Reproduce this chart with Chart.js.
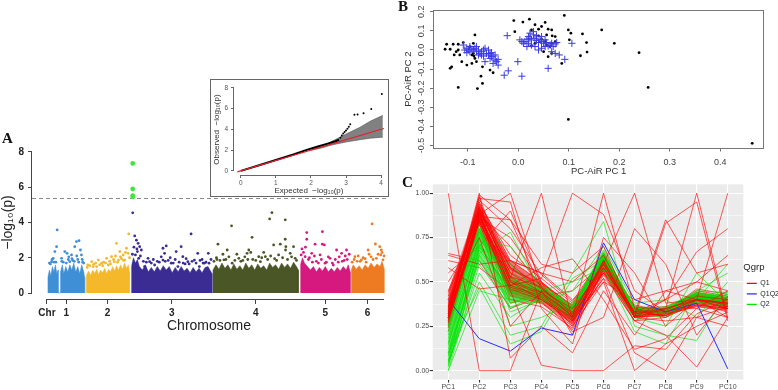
<!DOCTYPE html>
<html>
<head>
<meta charset="utf-8">
<script src="https://cdn.jsdelivr.net/npm/chart.js@4.4.1/dist/chart.umd.min.js"></script>
<style>
  html, body { margin: 0; padding: 0; background: #fff; }
  #page { position: relative; width: 778px; height: 390px; overflow: hidden; }
  canvas { position: absolute; }
  #qqBox { position: absolute; left: 210px; top: 79px; width: 177px; height: 116px; border: 1px solid #666; background: #fff; }
  #pcaFrame { position: absolute; box-sizing: border-box; border: 1px solid #777; background: transparent; }
  .tag { position: absolute; font: bold 15px "Liberation Serif", "DejaVu Serif", serif; line-height: 15px; color: #111; }
</style>
</head>
<body>
<div id="page">
  <canvas id="manhattan" width="390" height="200" style="left:0;top:140px"></canvas>
  <div id="qqBox"><canvas id="qq" width="177" height="116" style="left:0;top:0"></canvas></div>
  <canvas id="parcoord" width="383" height="208" style="left:395px;top:182px"></canvas>
  <canvas id="pca" width="383" height="182" style="left:395px;top:0"></canvas>
  <div id="pcaFrame"></div>
  <div class="tag" style="left:2px;top:131px">A</div>
  <div class="tag" style="left:398px;top:-1px">B</div>
  <div class="tag" style="left:402px;top:175px">C</div>
</div>
<script>
// ---- panel A: manhattan plot (position along genome, -log10 p) ----
const chrTickPos = [-1, 18.5, 60, 124.5, 209, 279, 321.5];
const chrTickText = ['Chr', '1', '2', '3', '4', '5', '6'];
const chrAxisSpan = [-1, 338];
const manhattanRange = [-16, 340];
const yTicksA = [0, 2, 4, 6, 8];
const sigLine = 5.36;

// dense part of each chromosome, outline of the point cloud
const chr1Bulk = [[0,0],[0,0.9],[1.5,1.3],[3,1.0],[4.5,1.5],[6,1.2],[7.5,1.6],[9,1.1],[10.3,1.3],[10.3,0],[12.7,0],[12.7,1.2],[14.5,1.6],[16,1.1],[18,1.5],[20,1.2],[22,1.6],[24,1.3],[26,1.7],[28,1.2],[30,1.5],[32,1.1],[34,1.6],[36,1.2],[37,0.9],[37,0]];
const chr2Bulk = [[38.5,0],[38.5,1.0],[41,1.25],[43,1.0],[45,1.3],[47,1.1],[49,1.35],[51,1.05],[53,1.3],[55,1.15],[57,1.4],[59,1.1],[61,1.35],[63,1.2],[65,1.5],[67,1.25],[69,1.55],[71,1.3],[73,1.6],[75,1.35],[77,1.7],[79,1.4],[81,1.6],[82,1.2],[82,0]];
const chr3Bulk = [[84,0],[84,1.5],[86,2.0],[88,1.7],[90,1.9],[92,1.5],[95,1.3],[98,1.6],[101,1.2],[104,1.45],[107,1.2],[110,1.5],[113,1.25],[116,1.55],[119,1.3],[122,1.5],[125,1.15],[128,1.45],[131,1.2],[134,1.5],[137,1.25],[140,1.4],[143,1.15],[146,1.45],[149,1.2],[152,1.4],[155,1.15],[158,1.45],[161,1.5],[163,1.3],[165,1.1],[165,0]];
const chr4Bulk = [[166,0],[166,1.3],[169,1.6],[172,1.35],[175,1.7],[178,1.4],[181,1.6],[184,1.3],[187,1.65],[190,1.35],[193,1.55],[196,1.3],[199,1.7],[202,1.4],[205,1.6],[208,1.3],[211,1.65],[214,1.4],[217,1.55],[220,1.3],[223,1.7],[226,1.45],[229,1.6],[232,1.35],[235,1.7],[238,1.45],[241,1.65],[244,1.4],[247,1.75],[250,1.5],[252,1.3],[252,0]];
const chr5Bulk = [[254,0],[254,1.6],[256,2.0],[258,1.7],[261,1.5],[264,1.3],[267,1.5],[270,1.2],[273,1.45],[276,1.25],[279,1.5],[282,1.2],[285,1.4],[288,1.2],[291,1.45],[294,1.25],[297,1.5],[300,1.3],[302,1.6],[304,1.2],[304,0]];
const chr6Bulk = [[305,0],[305,1.3],[307,1.6],[310,1.35],[313,1.55],[316,1.3],[319,1.6],[322,1.4],[325,1.7],[328,1.45],[331,1.65],[334,1.5],[336,1.8],[338,1.4],[338,0]];

// scattered markers above the dense part
const chr1Pts = [[9.3,3.58],[8.7,2.63],[7,2.35],[5.3,1.97],[3.7,1.78],[17,2.35],[19.3,2.25],[23.7,2.16],[28.7,2.92],[31.3,2.97],[32.7,2.44],[27,2.63],[13.7,1.97],[22,1.78],[33.7,2.16],[1.5,1.7],[25,1.85],[30,1.9],[35,1.75],[15.5,1.75],[20.5,1.9],[6,1.75],
  [2.5,1.65],[4.2,1.9],[8,1.75],[14,1.8],[18.5,1.7],[21,2.05],[24.2,1.95],[26.5,1.8],[29,2.1],[31,1.75],[34.5,1.9],[36,1.7]];
const chr2Pts = [[69,2.82],[81.3,3.35],[72.3,2.35],[75.7,2.16],[79,2.54],[64,2.06],[59,1.97],[50.7,1.87],[44,1.78],[80.7,2.25],[71,1.87],[66.7,1.78],[54,1.69],[60.7,1.59],[49,1.5],[77.3,1.87],[40,1.6],[46,1.62],[56,1.75],[62,1.8],[74,1.95],
  [39.5,1.45],[42,1.55],[45.5,1.5],[48,1.7],[52,1.6],[55,1.55],[58,1.7],[63,1.65],[66,1.9],[68,2.1],[70,1.75],[73,2.05],[76,1.85],[78,2.3],[82,2.0]];
const chr3Pts = [[87.3,3.24],[89,3.0],[90.7,2.82],[92.3,2.63],[94,2.44],[90,2.35],[88,2.16],[91.3,1.97],[100.7,1.97],[102.3,1.78],[115.7,2.54],[119,2.67],[117.3,2.25],[115.7,1.87],[129,2.35],[134,2.63],[135.7,2.06],[144,3.35],[147.3,1.87],[150.7,2.25],[157.3,1.69],[152.3,1.5],[140.7,1.78],[124,1.69],[107.3,1.59],[130.7,1.5],[97.3,1.5],[161.3,2.25],[162,1.69],[110,1.8],[121,1.85],[138,1.65],[155,1.9],[85.3,4.55],
  [85,2.2],[86.5,2.6],[89.5,2.5],[93,2.1],[96,1.8],[99,1.75],[104,1.7],[106,1.9],[112,1.75],[114,2.05],[118,1.8],[123,2.0],[126,1.7],[128,1.9],[132,1.75],[136,1.7],[139,1.95],[142,1.65],[145,1.8],[149,1.7],[153,1.85],[156,1.7],[159,1.75],[164,1.9]];
const chr4Pts = [[184.7,3.81],[205.3,3.16],[225.3,4.56],[223,4.2],[238.7,4.15],[171,2.77],[180.3,2.44],[200.3,2.25],[202,2.44],[227,2.73],[233.7,2.77],[238.7,3.05],[239.3,2.63],[239,2.44],[247,2.63],[243.7,2.25],[232,2.16],[218.7,2.06],[212,2.06],[192,1.97],[177,1.88],[213.7,1.78],[185.3,1.69],[248.7,1.97],[196,1.85],[206,1.9],[228,1.95],[170,1.9],
  [167,1.8],[169.5,2.0],[173,1.85],[176,2.2],[179,1.9],[182,2.05],[188,1.85],[190,2.2],[194,1.8],[198,2.05],[201,1.9],[204,2.3],[209,1.85],[215,2.0],[217,2.3],[221,1.9],[224,2.1],[230,1.85],[236,2.0],[241,1.9],[245,2.05],[250,1.85]];
const chr5Pts = [[260.3,3.43],[276,3.48],[260.3,3.05],[268.7,2.77],[276,2.77],[278,2.73],[254.7,2.16],[258.7,2.06],[265.3,2.25],[273.7,2.16],[283.7,1.97],[290.3,2.44],[295.3,2.25],[300.3,2.44],[278.7,1.69],[287,1.59],[262,1.9],[270,1.8],[292,1.75],[298,1.85],
  [255.5,2.5],[257,2.3],[259,2.6],[263,2.0],[266,1.75],[268,2.1],[272,1.7],[275,1.9],[280,1.75],[282,2.05],[286,1.7],[289,1.9],[293,2.05],[296,1.8],[299,2.1],[301,1.9],[303,2.2]];
const chr6Pts = [[326,3.92],[322,2.44],[329.3,2.78],[333.7,2.63],[335.3,2.44],[334.7,2.16],[308.7,2.06],[315.3,1.88],[330.3,1.97],[337,1.88],[311,1.8],[319,1.95],[325,2.05],
  [306,1.75],[308,1.9],[312,2.1],[314,1.8],[317,2.0],[320,1.75],[323,2.2],[327,1.9],[332,2.2],[336,2.3],[338,2.1]];
const sigPts = [[85.3,7.35],[85.3,5.9],[85.3,5.52],[85.3,5.45]];

// ---- inset: QQ plot ----
const qqXTicks = [0, 1, 2, 3, 4];
const qqYTicks = [0, 2, 4, 6, 8];
const qqRefLine = [[-0.1,-0.1],[4.08,4.08]];
const qqObsLine = [[0,0],[0.5,0.52],[1,1.04],[1.5,1.57],[1.9,2.05],[2.2,2.35],[2.5,2.65],[2.7,2.85],[2.8,3.0]];
const qqTail = [[2.84,3.2],[2.88,3.4],[2.92,3.6],[2.96,3.75],[3.0,3.9],[3.04,4.05],[3.08,4.25],[3.12,4.5],[3.24,5.4],[3.33,5.42],[3.5,5.55],[3.72,5.95],[4.02,7.4]];
const qqBandX = [2, 2.3, 2.6, 3, 3.4, 3.7, 4.05];
const qqBandUpper = [2.02, 2.35, 2.85, 3.55, 4.2, 4.8, 5.35];
const qqBandLower = [1.98, 2.2, 2.5, 2.78, 3.0, 3.15, 3.25];

// ---- panel B: PC-AiR scatter ----
const pcXTicks = [-0.1, 0, 0.1, 0.2, 0.3, 0.4];
const pcYTicks = [-0.5, -0.4, -0.3, -0.2, -0.1, 0, 0.1, 0.2];
const pcBlack = [[-0.145,0.004],[-0.142,0.030],[-0.135,0.004],[-0.129,0.030],[-0.127,-0.026],[-0.123,-0.009],[-0.119,0.030],[-0.119,0.0],[-0.116,-0.026],[-0.132,-0.088],[-0.135,-0.096],[-0.112,-0.061],[-0.109,0.039],[-0.102,-0.079],[-0.092,-0.070],[-0.086,0.079],[-0.089,0.035],[-0.096,0.018],[-0.089,-0.018],[-0.086,-0.044],[-0.083,-0.061],[-0.119,-0.196],[-0.081,-0.202],[-0.071,-0.175],[-0.074,-0.137],[-0.071,-0.088],[-0.056,-0.105],[-0.050,-0.119],[-0.092,-0.026],[-0.088,-0.032],
  [-0.009,0.154],[-0.007,0.096],[0.009,0.146],[0.022,0.161],[0.033,0.132],[0.046,0.123],[0.053,0.144],[0.059,0.109],[0.066,0.105],[0.067,0.074],[0.073,0.070],[0.056,0.079],[0.040,0.074],[0.046,0.056],[0.053,0.044],[0.056,0.026],[0.063,0.018],[0.066,0.035],[0.073,0.044],[0.066,-0.018],[0.059,-0.035],[0.050,-0.009],[0.033,0.035],[0.026,0.021],[0.086,-0.070],[0.091,0.181],[0.099,0.105],[0.104,0.088],[0.101,0.053],[0.099,-0.363],[0.040,0.109],[0.026,0.105],
  [0.127,0.084],[0.135,0.039],[0.136,-0.011],[0.123,-0.030],[0.165,0.105],[0.190,0.035],[0.239,-0.014],[0.257,-0.196],[0.463,-0.488]];
const pcBlue = [[0.003,0.053],[0.007,0.044],[0.010,0.035],[0.013,0.044],[0.017,0.056],[0.020,0.070],[0.023,0.061],[0.026,0.053],[0.030,0.079],[0.033,0.061],[0.036,0.049],[0.040,0.039],[0.043,0.056],[0.046,0.044],[0.050,0.035],[0.053,0.053],[0.056,0.039],[0.059,0.021],[0.063,0.026],[0.066,0.035],[0.069,0.018],[0.073,0.032],[0.076,0.039],[0.020,0.035],[0.026,0.026],[0.033,0.018],[0.040,0.000],[0.046,0.009],[0.053,0.018],[0.023,0.088],[0.030,0.096],[0.017,0.018],[0.036,0.074],[0.046,0.070],[0.066,-0.009],[0.073,-0.018],
  [-0.109,0.026],[-0.106,0.000],[-0.102,0.009],[-0.099,0.000],[-0.096,-0.009],[-0.092,0.004],[-0.089,0.000],[-0.086,0.009],[-0.083,-0.009],[-0.079,0.000],[-0.076,-0.018],[-0.073,-0.009],[-0.069,0.000],[-0.066,0.009],[-0.063,-0.018],[-0.059,-0.026],[-0.056,-0.018],[-0.053,-0.035],[-0.050,-0.032],[-0.046,-0.053],[-0.043,-0.061],[-0.040,-0.049],[-0.050,-0.070],[-0.056,-0.044],[-0.066,-0.061],[-0.073,-0.026],[-0.079,-0.026],[-0.069,-0.032],[-0.083,0.018],[-0.096,0.018],[-0.102,-0.014],[-0.059,0.000],[-0.053,-0.014],[-0.046,-0.026],[-0.040,-0.079],
  [-0.022,0.075],[-0.020,-0.109],[-0.028,-0.132],[0.007,-0.137],[-0.001,-0.061],[0.059,-0.096],[0.081,-0.026],[0.092,-0.049],[0.106,0.035]];

// ---- panel C: parallel coordinates ----
const pcAxes = ['PC1','PC2','PC3','PC4','PC5','PC6','PC7','PC8','PC9','PC10'];
const parYTicks = [0, 0.25, 0.5, 0.75, 1];
const parMinorTicks = [0.125, 0.375, 0.625, 0.875];
const groups = ['Q1', 'Q1Q2', 'Q2'];
const q1BandLow  = [0.24,0.82,0.42,0.38,0.26,0.55,0.30,0.31,0.36,0.34];
const q1BandHigh = [0.45,0.95,0.62,0.50,0.37,0.64,0.36,0.35,0.44,0.41];
const q2BandLow  = [0.02,0.62,0.38,0.41,0.31,0.60,0.32,0.33,0.38,0.37];
const q2BandHigh = [0.28,0.80,0.52,0.47,0.36,0.67,0.35,0.35,0.44,0.42];
const q1Lines = [
  [0.30,0.88,0.52,0.45,0.30,0.60,0.32,0.33,0.40,0.38],[0.35,0.92,0.58,0.48,0.33,0.62,0.33,0.34,0.42,0.37],
  [0.25,0.85,0.48,0.42,0.28,0.57,0.31,0.32,0.38,0.36],[0.40,0.90,0.55,0.47,0.35,0.63,0.34,0.33,0.41,0.39],
  [0.28,0.82,0.45,0.40,0.27,0.55,0.30,0.31,0.37,0.35],[0.32,0.95,0.62,0.50,0.36,0.64,0.35,0.35,0.43,0.40],
  [0.45,0.87,0.50,0.44,0.31,0.59,0.33,0.32,0.39,0.37],[0.27,0.89,0.42,0.38,0.25,0.56,0.31,0.34,0.41,0.36],
  [0.38,0.93,0.60,0.46,0.34,0.61,0.32,0.31,0.40,0.38],[0.30,0.84,0.47,0.43,0.29,0.58,0.34,0.33,0.44,0.41],
  [0.22,0.86,0.53,0.41,0.26,0.60,0.30,0.32,0.36,0.34],[0.42,0.91,0.57,0.49,0.37,0.66,0.36,0.34,0.42,0.39],
  [0.33,0.80,0.44,0.39,0.23,0.54,0.28,0.30,0.38,0.33],[0.36,0.94,0.65,0.52,0.38,0.63,0.33,0.33,0.45,0.42],
  [0.29,0.88,0.70,0.47,0.32,0.61,0.32,0.35,0.40,0.37],[0.31,0.86,0.75,0.50,0.34,0.60,0.31,0.34,0.41,0.38],
  [0.26,0.90,0.40,0.36,0.24,0.57,0.33,0.31,0.39,0.40],[0.44,0.83,0.38,0.44,0.28,0.52,0.35,0.36,0.43,0.36],
  [0.37,0.96,0.80,0.54,0.39,0.65,0.34,0.32,0.37,0.35],[0.24,0.87,0.85,0.46,0.30,0.62,0.30,0.33,0.42,0.39],
  [0.50,0.78,0.62,0.55,0.40,0.55,0.37,0.33,0.46,0.43],[0.55,0.70,0.90,0.50,0.20,0.58,0.28,0.36,0.35,0.30],
  [0.62,0.58,0.45,0.45,0.25,0.50,0.40,0.45,0.50,0.45],[0.66,0.62,0.35,0.42,0.45,0.60,0.30,0.28,0.30,0.25]
];
const q1Outliers = [
  [1.00,0.00,0.00,0.45,0.35,0.58,0.33,0.33,0.40,0.38],[0.30,0.88,1.00,0.47,0.32,0.60,0.32,0.34,0.42,0.40],
  [0.35,0.92,0.52,1.00,0.28,0.62,0.33,0.35,0.40,0.37],[0.30,0.87,0.48,0.52,1.00,0.88,0.45,0.33,0.40,0.38],
  [0.28,0.85,0.45,0.03,0.00,0.00,0.14,0.12,0.32,0.40],[0.32,0.98,0.50,0.40,0.30,1.00,0.35,0.30,0.40,0.38],
  [0.30,0.85,0.48,0.42,0.30,0.60,1.00,0.38,0.40,0.35],[0.34,0.90,0.55,0.44,0.32,0.62,0.30,0.83,0.95,0.28],
  [0.29,0.88,0.50,0.43,0.31,0.58,0.32,0.35,1.00,0.30],[0.31,0.89,0.47,0.41,0.29,0.61,0.30,0.35,0.40,1.00],
  [0.33,0.92,0.58,0.46,0.33,0.60,0.33,0.40,0.67,0.80],[0.30,0.86,0.51,0.44,0.31,0.55,0.28,0.20,0.02,0.30],
  [0.27,0.84,0.46,0.40,0.28,0.52,0.10,0.00,0.30,0.36],[0.36,0.91,0.53,0.47,0.30,0.50,0.00,0.15,0.25,0.33],
  [0.34,1.00,0.07,0.25,0.10,0.45,0.20,0.45,0.40,0.35],[0.65,0.60,0.62,0.55,0.50,0.65,0.32,0.85,0.55,0.60],
  [0.58,0.46,0.48,0.58,0.63,0.40,0.12,0.18,0.35,0.45],[0.30,0.97,0.95,0.35,0.15,0.75,0.55,0.25,0.40,0.30],
  [0.32,0.99,0.85,0.60,0.55,0.70,0.30,0.40,0.50,0.65],[0.40,0.75,0.25,0.45,0.22,0.30,0.80,0.60,0.20,0.42]
];
const q2Lines = [
  [0.05,0.70,0.45,0.44,0.33,0.63,0.34,0.34,0.41,0.39],[0.10,0.75,0.48,0.45,0.34,0.64,0.35,0.33,0.42,0.40],
  [0.15,0.72,0.42,0.43,0.32,0.62,0.33,0.35,0.40,0.38],[0.02,0.65,0.40,0.42,0.31,0.60,0.32,0.34,0.39,0.37],
  [0.20,0.78,0.50,0.46,0.35,0.66,0.34,0.35,0.43,0.41],[0.08,0.68,0.46,0.44,0.33,0.65,0.33,0.33,0.41,0.40],
  [0.25,0.80,0.55,0.47,0.36,0.67,0.35,0.34,0.44,0.42],[0.12,0.62,0.38,0.41,0.30,0.61,0.33,0.34,0.40,0.38],
  [0.00,0.60,0.36,0.40,0.31,0.59,0.32,0.33,0.38,0.37],[0.18,0.74,0.52,0.45,0.34,0.64,0.34,0.35,0.42,0.41],
  [0.06,0.71,0.44,0.43,0.32,0.63,0.35,0.34,0.41,0.39],[0.28,0.77,0.47,0.46,0.35,0.62,0.33,0.35,0.43,0.40],
  [0.03,0.66,0.78,0.44,0.30,0.60,0.34,0.33,0.40,0.43],[0.14,0.73,0.70,0.48,0.37,0.65,0.35,0.36,0.44,0.41],
  [0.09,0.69,0.60,0.42,0.33,0.66,0.33,0.34,0.42,0.40],[0.22,0.79,0.33,0.40,0.34,0.64,0.36,0.35,0.45,0.44],
  [0.04,0.55,0.30,0.41,0.29,0.60,0.33,0.32,0.39,0.37],[0.16,0.76,0.53,0.47,0.36,0.68,0.34,0.34,0.41,0.40],
  [0.10,0.47,0.15,0.22,0.52,0.62,0.32,0.30,0.40,0.60],[0.05,0.50,0.20,0.25,0.55,0.84,0.25,0.20,0.17,0.45],
  [0.30,0.80,0.35,0.45,0.50,0.58,0.22,0.15,0.45,0.55],[0.00,0.45,0.40,0.38,0.45,0.70,0.38,0.40,0.30,0.50],
  [0.26,0.82,0.25,0.30,0.38,0.57,0.30,0.25,0.55,0.38]
];
const q1q2Lines = [[0.40,0.18,0.11,0.24,0.20,0.72,0.40,0.33,0.38,0.01]];

// ---- helpers ----
Chart.defaults.font.family = '"Liberation Sans", Arial, sans-serif';
Chart.defaults.plugins.legend.display = false;
Chart.defaults.plugins.tooltip.enabled = false;

const toXY = arr => arr.map(([x, y]) => ({ x, y }));
const setTicks = vals => s => { s.ticks = vals.map(v => ({ value: v })); };
const fitX = h => s => { s.height = h; s.paddingLeft = 0; s.paddingRight = 0; };
const fitY = w => s => { s.width = w; s.paddingTop = 0; s.paddingBottom = 0; };
// first dataset in the array is painted first (lowest)
const layered = sets => { sets.forEach((d, i) => { d.order = sets.length - i; }); return sets; };
const base = { responsive: false, animation: false, devicePixelRatio: 1, events: [] };

// R style axis lines that only span the tick range
const rAxes = {
  id: 'rAxes',
  afterDraw(chart, args, opts) {
    const { ctx, chartArea: a, scales } = chart;
    ctx.save();
    ctx.strokeStyle = opts.color || '#444';
    ctx.lineWidth = 1;
    ctx.beginPath();
    if (opts.x) {
      const y = Math.round(a.bottom) + 0.5;
      ctx.moveTo(scales.x.getPixelForValue(opts.x[0]), y);
      ctx.lineTo(scales.x.getPixelForValue(opts.x[1]), y);
    }
    if (opts.y) {
      const x = Math.round(a.left) - 0.5;
      ctx.moveTo(x, scales.y.getPixelForValue(opts.y[0]));
      ctx.lineTo(x, scales.y.getPixelForValue(opts.y[1]));
    }
    ctx.stroke();
    ctx.restore();
  }
};
const panelBg = {
  id: 'panelBg',
  beforeDraw(chart, args, opts) {
    const { ctx, chartArea: a } = chart;
    ctx.save();
    ctx.fillStyle = opts.color || '#ebebeb';
    ctx.fillRect(a.left, a.top, a.width, a.height);
    ctx.restore();
  }
};

// ---- A: manhattan ----
const chrColors = ['#3f8fd7', '#f5b82a', '#3b2c94', '#4b5626', '#d5197f', '#ee7b22'];
const bulks = [chr1Bulk, chr2Bulk, chr3Bulk, chr4Bulk, chr5Bulk, chr6Bulk];
const chrPts = [chr1Pts, chr2Pts, chr3Pts, chr4Pts, chr5Pts, chr6Pts];
const aSets = [];
bulks.forEach((b, i) => aSets.push({
  type: 'line', data: toXY(b), fill: 'origin', backgroundColor: chrColors[i],
  borderColor: chrColors[i], borderWidth: 0.5, pointRadius: 0, tension: 0
}));
chrPts.forEach((p, i) => aSets.push({ data: toXY(p), backgroundColor: chrColors[i], borderWidth: 0, pointRadius: 1.4 }));
aSets.push({
  type: 'line', data: manhattanRange.map(x => ({ x, y: sigLine })),
  borderColor: '#8a8a8a', borderWidth: 1, borderDash: [4, 3], pointRadius: 0, fill: false
});
aSets.push({ data: toXY(sigPts), backgroundColor: '#3ee63e', borderWidth: 0, pointRadius: 2.4 });

new Chart(document.getElementById('manhattan'), {
  type: 'scatter',
  data: { datasets: layered(aSets) },
  options: {
    ...base,
    layout: { padding: { top: 6, right: 2, left: 0, bottom: 0 } },
    scales: {
      x: {
        type: 'linear', min: manhattanRange[0], max: manhattanRange[1],
        afterBuildTicks: setTicks(chrTickPos), afterFit: fitX(41),
        ticks: { callback: (v, i) => chrTickText[i], autoSkip: false, maxRotation: 0, padding: 3, color: '#222', font: { size: 10, weight: 'bold' } },
        grid: { drawOnChartArea: false, tickLength: 5, color: '#444' },
        border: { display: false },
        title: { display: true, text: 'Chromosome', color: '#222', font: { size: 14 }, padding: { top: 0, bottom: 5.6 } }
      },
      y: {
        min: -0.34, max: 8.34,
        afterBuildTicks: setTicks(yTicksA), afterFit: fitY(32),
        ticks: { padding: 4, color: '#222', font: { size: 10, weight: 'bold' } },
        grid: { drawOnChartArea: false, tickLength: 4, color: '#444' },
        border: { display: false },
        title: { display: true, text: '−log₁₀(p)', color: '#222', font: { size: 14 }, padding: { top: 0, bottom: 0 } }
      }
    },
    plugins: { rAxes: { x: chrAxisSpan, y: [yTicksA[0], yTicksA[yTicksA.length - 1]], color: '#444' } }
  },
  plugins: [rAxes]
});

// ---- A inset: QQ ----
const qqSets = layered([
  { type: 'line', data: qqBandX.map((x, i) => ({ x, y: qqBandUpper[i] })), fill: '+1', backgroundColor: 'rgba(115,115,115,0.9)', borderColor: '#555', borderWidth: 0.6, pointRadius: 0 },
  { type: 'line', data: qqBandX.map((x, i) => ({ x, y: qqBandLower[i] })), fill: false, borderColor: '#555', borderWidth: 0.6, pointRadius: 0 },
  { type: 'line', data: toXY(qqObsLine), fill: false, borderColor: '#000', borderWidth: 2, pointRadius: 0 },
  { data: toXY(qqTail), backgroundColor: '#000', borderWidth: 0, pointRadius: 1 },
  { type: 'line', data: toXY(qqRefLine), fill: false, borderColor: '#e0202a', borderWidth: 1.2, pointRadius: 0 }
]);
new Chart(document.getElementById('qq'), {
  type: 'scatter',
  data: { datasets: qqSets },
  options: {
    ...base,
    layout: { padding: { top: 1, right: 0, left: 0, bottom: 0 } },
    scales: {
      x: {
        type: 'linear', min: -0.194, max: 4.083,
        afterBuildTicks: setTicks(qqXTicks), afterFit: fitX(21),
        ticks: { padding: 1.1, color: '#555', font: { size: 6.5 } },
        grid: { drawOnChartArea: false, tickLength: 3, color: '#666' },
        border: { display: false },
        title: { display: true, text: 'Expected  −log₁₀(p)', color: '#333', font: { size: 8 }, padding: { top: 0, bottom: 0.2 } }
      },
      y: {
        min: -0.4, max: 8.37,
        afterBuildTicks: setTicks(qqYTicks), afterFit: fitY(23),
        ticks: { padding: 3, color: '#555', font: { size: 6.5 } },
        grid: { drawOnChartArea: false, tickLength: 3, color: '#666' },
        border: { display: false },
        title: { display: true, text: 'Observed  −log₁₀(p)', color: '#333', font: { size: 8 }, padding: { top: 0.9, bottom: 0 } }
      }
    },
    plugins: { rAxes: { x: [0, 4], y: [0, 8], color: '#666' } }
  },
  plugins: [rAxes]
});

// ---- C: parallel coordinates ----
const groupColors = ['#ff0000', '#2b2bff', '#00e400'];
const lineOf = (vals, color, w) => ({ data: vals, borderColor: color, borderWidth: w, pointRadius: 0, fill: false, tension: 0 });
const cSets = [];
cSets.push({ data: q1BandHigh, fill: '+1', backgroundColor: 'rgba(255,0,0,0.5)', borderColor: 'transparent', pointRadius: 0 });
cSets.push({ data: q1BandLow, fill: false, borderColor: 'transparent', pointRadius: 0 });
q1Lines.forEach(l => cSets.push(lineOf(l, 'rgba(255,0,0,0.8)', 0.8)));
cSets.push({ data: q2BandHigh, fill: '+1', backgroundColor: 'rgba(0,228,0,0.5)', borderColor: 'transparent', pointRadius: 0 });
cSets.push({ data: q2BandLow, fill: false, borderColor: 'transparent', pointRadius: 0 });
q2Lines.forEach(l => cSets.push(lineOf(l, 'rgba(0,228,0,0.8)', 0.8)));
q1q2Lines.forEach(l => cSets.push(lineOf(l, groupColors[1], 1)));
q1Outliers.forEach(l => cSets.push(lineOf(l, 'rgba(255,0,0,0.8)', 0.8)));

new Chart(document.getElementById('parcoord'), {
  type: 'line',
  data: { labels: pcAxes, datasets: layered(cSets) },
  options: {
    ...base,
    layout: { padding: { top: 2.3, right: 0, left: 0, bottom: 0 } },
    scales: {
      x: {
        type: 'category', offset: true, afterFit: fitX(10.5),
        ticks: { padding: 0, color: '#4d4d4d', font: { size: 7 }, maxRotation: 0, autoSkip: false },
        grid: { offset: false, color: '#fff', lineWidth: 1.1, tickColor: '#333', tickLength: 3 },
        border: { display: false }
      },
      y: {
        min: -0.05, max: 1.05,
        afterBuildTicks: setTicks(parYTicks), afterFit: fitY(37.7),
        ticks: { callback: v => v.toFixed(2), padding: 0.5, color: '#4d4d4d', font: { size: 7 } },
        grid: { color: '#fff', lineWidth: 1.1, tickColor: '#333', tickLength: 3 },
        border: { display: false }
      },
      yMinor: {
        position: 'right', min: -0.05, max: 1.05,
        afterBuildTicks: setTicks(parMinorTicks), afterFit: fitY(0),
        ticks: { display: false },
        grid: { color: '#fff', lineWidth: 0.5, drawTicks: false },
        border: { display: false }
      }
    },
    plugins: {
      panelBg: { color: '#ebebeb' },
      legend: {
        display: true, position: 'right', align: 'center', maxWidth: 34.7,
        title: { display: true, text: 'Qgrp', position: 'start', color: '#222', font: { size: 9.5 }, padding: { top: 0, bottom: 2 } },
        labels: {
          usePointStyle: true, pointStyleWidth: 10, padding: 3.5, color: '#333', font: { size: 7 },
          generateLabels: () => groups.map((g, i) => ({
            text: g, pointStyle: 'line', strokeStyle: groupColors[i], fillStyle: groupColors[i],
            lineWidth: 1.2, hidden: false, datasetIndex: 0
          }))
        }
      }
    }
  },
  plugins: [panelBg]
});

// ---- B: PC-AiR ----
const boxColor = '#707070';
const pcaCanvas = document.getElementById('pca');
const pcaChart = new Chart(pcaCanvas, {
  type: 'scatter',
  data: {
    datasets: layered([
      { data: toXY(pcBlack), backgroundColor: '#000', borderWidth: 0, pointRadius: 1.4 },
      { data: toXY(pcBlue), pointStyle: 'cross', borderColor: '#3b3be0', borderWidth: 1, pointRadius: 3.6 }
    ])
  },
  options: {
    ...base,
    layout: { padding: { top: 10.8, right: 14.7, left: 0, bottom: 0 } },
    scales: {
      x: {
        type: 'linear', min: -0.167, max: 0.485,
        afterBuildTicks: setTicks(pcXTicks), afterFit: fitX(34.5),
        ticks: { callback: v => v.toFixed(1), padding: 5.8, color: '#444', font: { size: 9 } },
        grid: { display: true, drawOnChartArea: false, drawTicks: true, tickLength: 4, tickColor: boxColor, color: boxColor, lineWidth: 1 },
        border: { display: false },
        title: { display: true, text: 'PC-AiR PC 1', color: '#333', font: { size: 9.5 }, padding: { top: 0, bottom: 4.6 } }
      },
      y: {
        min: -0.51, max: 0.205,
        afterBuildTicks: setTicks(pcYTicks), afterFit: fitY(39),
        ticks: { callback: v => v.toFixed(1), minRotation: 90, maxRotation: 90, crossAlign: 'center', padding: 0.5, color: '#444', font: { size: 9 } },
        grid: { display: true, drawOnChartArea: false, drawTicks: true, tickLength: 4, tickColor: boxColor, color: boxColor, lineWidth: 1 },
        border: { display: false },
        title: { display: true, text: 'PC-AiR PC 2', color: '#333', font: { size: 9.5 }, padding: { top: 7.3, bottom: 0 } }
      }
    }
  }
});

// frame round the B plot region, placed from the chart's own plot area
const pa = pcaChart.chartArea;
const frameEl = document.getElementById('pcaFrame');
frameEl.style.left = (pcaCanvas.offsetLeft + Math.round(pa.left) - 1) + 'px';
frameEl.style.top = (pcaCanvas.offsetTop + Math.round(pa.top) - 1) + 'px';
frameEl.style.width = (Math.round(pa.right) - Math.round(pa.left) + 2) + 'px';
frameEl.style.height = (Math.round(pa.bottom) - Math.round(pa.top) + 2) + 'px';
</script>
</body>
</html>
